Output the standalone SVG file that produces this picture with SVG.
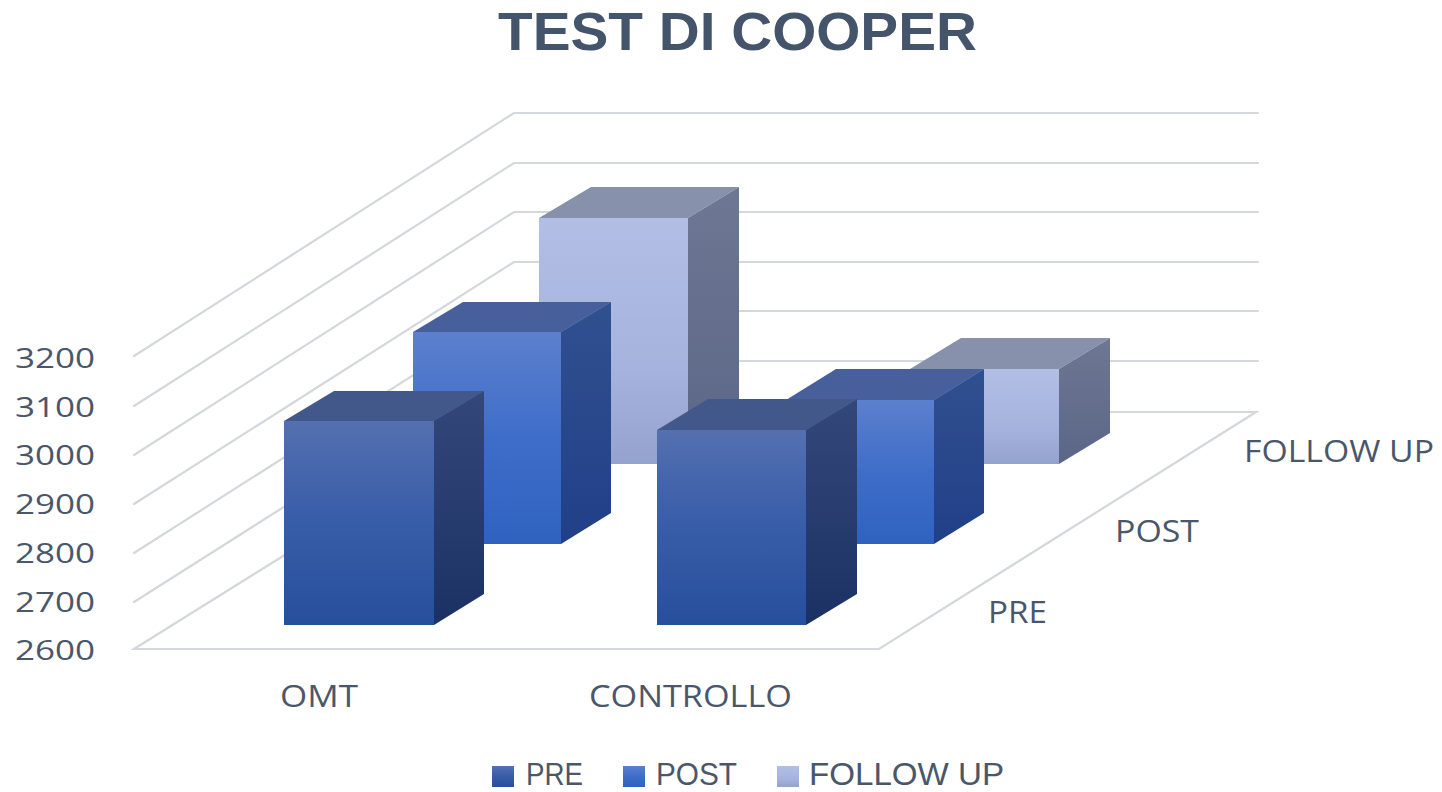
<svg xmlns="http://www.w3.org/2000/svg" width="1442" height="792" viewBox="0 0 1442 792">
<style>
.grid{stroke:#d4d7db;stroke-width:2.2;fill:none;stroke-linecap:round}
.t{font-family:"Open Sans","Liberation Sans",sans-serif;fill:#4a576b}
.ax{font-size:28px}
.cat{font-size:31px}
.leg{font-family:"Liberation Sans","Open Sans",sans-serif;font-size:31px}
.title{font-family:"Liberation Sans","Open Sans",sans-serif;font-size:53px;font-weight:bold;fill:#44546a}
</style>
<defs>
<linearGradient id="preF" x1="0" y1="0" x2="0" y2="1"><stop offset="0" stop-color="#5470b0"/><stop offset="0.45" stop-color="#3a5ea9"/><stop offset="1" stop-color="#264f9c"/></linearGradient>
<linearGradient id="preS" x1="0" y1="0" x2="0" y2="1"><stop offset="0" stop-color="#34477b"/><stop offset="1" stop-color="#1b3163"/></linearGradient>
<linearGradient id="postF" x1="0" y1="0" x2="0" y2="1"><stop offset="0" stop-color="#5c80cd"/><stop offset="0.5" stop-color="#3e6dc9"/><stop offset="1" stop-color="#2f62bf"/></linearGradient>
<linearGradient id="postS" x1="0" y1="0" x2="0" y2="1"><stop offset="0" stop-color="#31508f"/><stop offset="1" stop-color="#213f88"/></linearGradient>
<linearGradient id="fuF" x1="0" y1="0" x2="0" y2="1"><stop offset="0" stop-color="#b2bee4"/><stop offset="0.6" stop-color="#a6b3de"/><stop offset="1" stop-color="#94a2ce"/></linearGradient>
<linearGradient id="fuS" x1="0" y1="0" x2="0" y2="1"><stop offset="0" stop-color="#6e7893"/><stop offset="1" stop-color="#5b6587"/></linearGradient>
</defs>
<rect width="1442" height="792" fill="#ffffff"/>
<text class="t title" x="498" y="50" textLength="479" lengthAdjust="spacingAndGlyphs">TEST DI COOPER</text>
<g id="grid">
<polygon class="grid" points="134,649 879,649 1256,412 514,412"/>
<polyline class="grid" points="134,602 514,361 1258,361"/>
<polyline class="grid" points="134,553 514,311 1258,311"/>
<polyline class="grid" points="134,504 514,262 1258,262"/>
<polyline class="grid" points="134,455 514,212 1258,212"/>
<polyline class="grid" points="134,406 514,163 1258,163"/>
<polyline class="grid" points="134,356 514,113 1258,113"/>
</g>
<g id="axis-labels">
<text class="t ax" x="15" y="368" textLength="80" lengthAdjust="spacingAndGlyphs">3200</text>
<text class="t ax" x="15" y="417" textLength="80" lengthAdjust="spacingAndGlyphs">3100</text>
<text class="t ax" x="15" y="465" textLength="80" lengthAdjust="spacingAndGlyphs">3000</text>
<text class="t ax" x="15" y="514" textLength="80" lengthAdjust="spacingAndGlyphs">2900</text>
<text class="t ax" x="15" y="563" textLength="80" lengthAdjust="spacingAndGlyphs">2800</text>
<text class="t ax" x="15" y="612" textLength="80" lengthAdjust="spacingAndGlyphs">2700</text>
<text class="t ax" x="15" y="660" textLength="80" lengthAdjust="spacingAndGlyphs">2600</text>
<text class="t cat" x="280" y="707" textLength="78" lengthAdjust="spacingAndGlyphs">OMT</text>
<text class="t cat" x="589" y="707" textLength="203" lengthAdjust="spacingAndGlyphs">CONTROLLO</text>
<text class="t cat" x="988" y="623" textLength="59" lengthAdjust="spacingAndGlyphs">PRE</text>
<text class="t cat" x="1115" y="542" textLength="84" lengthAdjust="spacingAndGlyphs">POST</text>
<text class="t cat" x="1244" y="462" textLength="190" lengthAdjust="spacingAndGlyphs">FOLLOW UP</text>
</g>
<g id="bar-omt-followup">
<rect x="539" y="218" width="149" height="246" fill="url(#fuF)"/>
<polygon points="539,218 688,218 739,187 591,187" fill="#8791ac"/>
<polygon points="688,218 739,187 739,433 688,464" fill="url(#fuS)"/>
</g>
<g id="bar-controllo-followup">
<rect x="910" y="369" width="149" height="95" fill="url(#fuF)"/>
<polygon points="910,369 1059,369 1110,338 961,338" fill="#8791ac"/>
<polygon points="1059,369 1110,338 1110,433 1059,464" fill="url(#fuS)"/>
</g>
<g id="bar-omt-post">
<rect x="413" y="332" width="148" height="212" fill="url(#postF)"/>
<polygon points="413,332 561,332 611,302 463,302" fill="#47609b"/>
<polygon points="561,332 611,302 611,513 561,544" fill="url(#postS)"/>
</g>
<g id="bar-controllo-post">
<rect x="786" y="400" width="148" height="144" fill="url(#postF)"/>
<polygon points="786,400 934,400 984,369 836,369" fill="#47609b"/>
<polygon points="934,400 984,369 984,513 934,544" fill="url(#postS)"/>
</g>
<g id="bar-omt-pre">
<rect x="284" y="421" width="150" height="204" fill="url(#preF)"/>
<polygon points="284,421 434,421 484,391 334,391" fill="#43588a"/>
<polygon points="434,421 484,391 484,594 434,625" fill="url(#preS)"/>
</g>
<g id="bar-controllo-pre">
<rect x="657" y="430" width="149" height="195" fill="url(#preF)"/>
<polygon points="657,430 806,430 857,399 708,399" fill="#43588a"/>
<polygon points="806,430 857,399 857,594 806,625" fill="url(#preS)"/>
</g>
<g id="legend">
<rect x="492" y="766" width="22" height="21" fill="url(#preF)"/>
<text class="t leg" x="526" y="785" textLength="57" lengthAdjust="spacingAndGlyphs">PRE</text>
<rect x="623" y="766" width="22" height="21" fill="url(#postF)"/>
<text class="t leg" x="656" y="785" textLength="81" lengthAdjust="spacingAndGlyphs">POST</text>
<rect x="777" y="766" width="22" height="21" fill="url(#fuF)"/>
<text class="t leg" x="809" y="785" textLength="195" lengthAdjust="spacingAndGlyphs">FOLLOW UP</text>
</g>
</svg>
